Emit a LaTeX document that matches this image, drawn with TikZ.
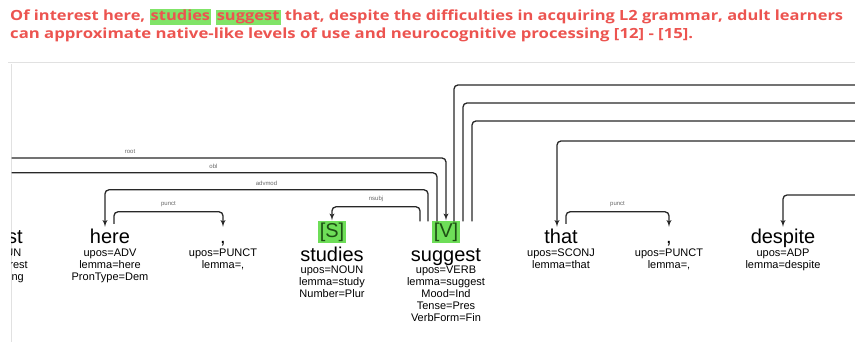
\documentclass[tikz,border=0pt]{standalone}
\usepackage{fontspec}
\setmainfont{Liberation Sans}
\newfontfamily\headfont{Open Sans}
\usetikzlibrary{arrows,positioning}

\definecolor{headred}{RGB}{236,84,80}
\definecolor{hlgreen}{RGB}{128,228,104}
\definecolor{taggreen}{RGB}{110,222,88}
\definecolor{tagtext}{RGB}{30,80,20}
\definecolor{arcgray}{RGB}{40,40,40}
\definecolor{framegray}{RGB}{225,225,225}
\newcommand{\hlword}[1]{{\setlength{\fboxsep}{1pt}\colorbox{hlgreen}{\vphantom{Ag}#1}}}

\begin{document}
\begin{tikzpicture}[x=1pt, y=1pt]
\tikzset{
   header/.style={font=\headfont\bfseries\fontsize{14}{18}\selectfont, text=headred, inner sep=0pt, anchor=base west},
   token/.style={font=\fontsize{20}{20}\selectfont, inner sep=0pt, text height=15pt, text depth=4pt, anchor=base},
   tagbox/.style={token, fill=taggreen, inner sep=1.5pt, text=tagtext},
   feats/.style={font=\fontsize{11}{12}\selectfont, align=center, inner sep=0pt},
   deplabel/.style={font=\fontsize{6}{6}\selectfont, text=black!60, above=3.5pt, inner sep=0.5pt},
   deparc/.style={draw=arcgray, line width=1.3pt, rounded corners=4pt, >=latex'},
}
\useasboundingbox (0,0) rectangle (855,342);

\node[header] (line1) at (10,321) {\resizebox{833pt}{\height}{Of interest here, \hlword{studies} \hlword{suggest} that, despite the difficulties in acquiring L2 grammar, adult learners}};
\node[header] (line2) at (10,303) {\resizebox{683pt}{\height}{can approximate native-like levels of use and neurocognitive processing [12] - [15].}};

% frame of the tree view
\draw[framegray, line width=0.8pt] (8,280) -- (855,280);
\draw[framegray, line width=0.8pt] (11,278) -- (11,0);

\begin{scope}
\clip (11.5,0) rectangle (855,279);

\node[token] (interest) at (-10,98) {interest};
\node[feats, below=0.5pt of interest] (interest-f) {upos=NOUN\\lemma=interest\\Number=Sing};
\node[token] (here) at (110,98) {here};
\node[feats, below=0.5pt of here] (here-f) {upos=ADV\\lemma=here\\PronType=Dem};
\node[token] (comma1) at (223,98) {,};
\node[feats, below=0.5pt of comma1] (comma1-f) {upos=PUNCT\\lemma=,};
\node[tagbox] (S) at (332,104) {[S]};
\node[token, below=2.5pt of S] (studies) {studies};
\node[feats, below=0.5pt of studies] (studies-f) {upos=NOUN\\lemma=study\\Number=Plur};
\node[tagbox] (V) at (446,104) {[V]};
\node[token, below=2.5pt of V] (suggest) {suggest};
\node[feats, below=0.5pt of suggest] (suggest-f) {upos=VERB\\lemma=suggest\\Mood=Ind\\Tense=Pres\\VerbForm=Fin};
\node[token] (that) at (561,98) {that};
\node[feats, below=0.5pt of that] (that-f) {upos=SCONJ\\lemma=that};
\node[token] (comma2) at (669,98) {,};
\node[feats, below=0.5pt of comma2] (comma2-f) {upos=PUNCT\\lemma=,};
\node[token] (despite) at (783,98) {despite};
\node[feats, below=0.5pt of despite] (despite-f) {upos=ADP\\lemma=despite};

% ends of arcs whose words lie outside the view
\coordinate (root-start) at (-186,184);
\coordinate (mark-start) at (900,201);
\coordinate (case-start) at (900,147);
\coordinate (dep-a) at (900,257);
\coordinate (dep-b) at (900,239);
\coordinate (dep-c) at (900,221);

\draw[deparc, ->, shorten >=1pt] (root-start) -| node[deplabel, pos=0.25] {root} (V.north);
\draw[deparc, ->, shorten >=1pt] ([xshift=-9pt]V.north) -- ++(0,48.5) -| node[deplabel, pos=0.25] {obl} (interest.north);
\draw[deparc, ->, shorten >=2pt] ([xshift=-18pt]V.north) -- ++(0,31.5) -| node[deplabel, pos=0.25] {advmod} ([xshift=-5pt]here.north);
\draw[deparc, ->, shorten >=1pt] ([xshift=-26pt]V.north) -- ++(0,14.5) -| node[deplabel, pos=0.25] {nsubj} (S.north);
\draw[deparc, ->, shorten >=2pt, shorten <=5pt] ([xshift=4pt]here.north) -- ++(0,17) -| node[deplabel, pos=0.25] {punct} (comma1.north);
\draw[deparc, ->, shorten >=2pt, shorten <=5pt] ([xshift=5pt]that.north) -- ++(0,17) -| node[deplabel, pos=0.25] {punct} (comma2.north);
\draw[deparc, ->, shorten >=2pt] (mark-start) -| ([xshift=-4pt]that.north);
\draw[deparc, ->, shorten >=2pt] (case-start) -| (despite.north);
\draw[deparc] ([xshift=8pt]V.north) |- (dep-a);
\draw[deparc] ([xshift=17pt]V.north) |- (dep-b);
\draw[deparc] ([xshift=26pt]V.north) |- (dep-c);
\end{scope}
\end{tikzpicture}
\end{document}
